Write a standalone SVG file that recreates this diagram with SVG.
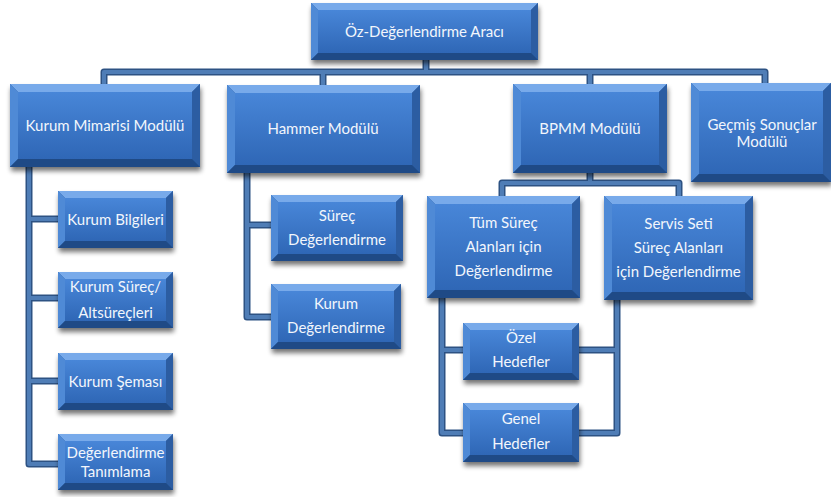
<svg xmlns="http://www.w3.org/2000/svg" width="831" height="497" viewBox="0 0 831 497">
<defs>
<linearGradient id="face" x1="0" y1="0" x2="0" y2="1">
<stop offset="0" stop-color="#4886d8"/>
<stop offset="1" stop-color="#2f67b6"/>
</linearGradient>
<filter id="sh" x="-10%" y="-10%" width="125%" height="135%">
<feGaussianBlur in="SourceAlpha" stdDeviation="2.5"/>
<feOffset dx="1" dy="4" result="b"/>
<feComponentTransfer><feFuncA type="linear" slope="0.55"/></feComponentTransfer>
<feMerge><feMergeNode/><feMergeNode in="SourceGraphic"/></feMerge>
</filter>
</defs>
<style>
.base{fill:#2b5c9f;filter:url(#sh)}
.bt{fill:#78aaea}
.bl{fill:#4f8ad6}
.br{fill:#2c5da2}
.bb{fill:#1f4a86}
.face{fill:url(#face)}
text{font-family:Lato,"Liberation Sans",sans-serif;font-size:15px;fill:#f2f6fc;text-anchor:middle}
.co{fill:none;stroke:#2d5283;stroke-width:7;stroke-linejoin:round;stroke-linecap:butt}
.ci{fill:none;stroke:#4f7db6;stroke-width:4;stroke-linejoin:round;stroke-linecap:butt}
</style>
<g id="connectors">
<g class="co">
<path d="M426,60 V72"/><path d="M104,84 V72 H765 V83"/><path d="M323,72 V85"/><path d="M590,72 V84"/>
<path d="M29,167 V464 H58"/><path d="M29,219 H58"/><path d="M29,298 H58"/><path d="M29,381 H58"/>
<path d="M247,173 V317 H271"/><path d="M247,225 H271"/>
<path d="M590,173 V183"/><path d="M502,196 V183 H679 V196"/>
<path d="M442,298 V433 H463"/><path d="M442,350 H463"/>
<path d="M617,300 V433 H579"/><path d="M617,350 H579"/>
</g>
<g class="ci">
<path d="M426,60 V72"/><path d="M104,84 V72 H765 V83"/><path d="M323,72 V85"/><path d="M590,72 V84"/>
<path d="M29,167 V464 H58"/><path d="M29,219 H58"/><path d="M29,298 H58"/><path d="M29,381 H58"/>
<path d="M247,173 V317 H271"/><path d="M247,225 H271"/>
<path d="M590,173 V183"/><path d="M502,196 V183 H679 V196"/>
<path d="M442,298 V433 H463"/><path d="M442,350 H463"/>
<path d="M617,300 V433 H579"/><path d="M617,350 H579"/>
</g>
</g>

<g id="n-top">
<rect class="base" x="311" y="3" width="227" height="57"/>
<polygon class="bt" points="311,3 538,3 531,10 318,10"/>
<polygon class="bl" points="311,3 318,10 318,53 311,60"/>
<polygon class="br" points="538,3 538,60 531,53 531,10"/>
<polygon class="bb" points="311,60 318,53 531,53 538,60"/>
<rect class="face" x="318" y="10" width="213" height="43"/>
<text x="424.5" y="37">Öz-Değerlendirme Aracı</text>
</g>

<g id="n-kmm">
<rect class="base" x="10" y="84" width="190" height="83"/>
<polygon class="bt" points="10,84 200,84 192,92 18,92"/>
<polygon class="bl" points="10,84 18,92 18,159 10,167"/>
<polygon class="br" points="200,84 200,167 192,159 192,92"/>
<polygon class="bb" points="10,167 18,159 192,159 200,167"/>
<rect class="face" x="18" y="92" width="174" height="67"/>
<text x="105" y="131">Kurum Mimarisi Modülü</text>
</g>

<g id="n-ham">
<rect class="base" x="227" y="85" width="193" height="88"/>
<polygon class="bt" points="227,85 420,85 412,93 235,93"/>
<polygon class="bl" points="227,85 235,93 235,165 227,173"/>
<polygon class="br" points="420,85 420,173 412,165 412,93"/>
<polygon class="bb" points="227,173 235,165 412,165 420,173"/>
<rect class="face" x="235" y="93" width="177" height="72"/>
<text x="323" y="134">Hammer Modülü</text>
</g>

<g id="n-bpmm">
<rect class="base" x="513" y="84" width="154" height="89"/>
<polygon class="bt" points="513,84 667,84 659,92 521,92"/>
<polygon class="bl" points="513,84 521,92 521,165 513,173"/>
<polygon class="br" points="667,84 667,173 659,165 659,92"/>
<polygon class="bb" points="513,173 521,165 659,165 667,173"/>
<rect class="face" x="521" y="92" width="138" height="73"/>
<text x="590" y="134">BPMM Modülü</text>
</g>

<g id="n-gec">
<rect class="base" x="691" y="83" width="140" height="99"/>
<polygon class="bt" points="691,83 831,83 823,91 699,91"/>
<polygon class="bl" points="691,83 699,91 699,174 691,182"/>
<polygon class="br" points="831,83 831,182 823,174 823,91"/>
<polygon class="bb" points="691,182 699,174 823,174 831,182"/>
<rect class="face" x="699" y="91" width="124" height="83"/>
<text x="762" y="130">Geçmiş Sonuçlar</text>
<text x="762" y="147">Modülü</text>
</g>

<g id="n-kb">
<rect class="base" x="58" y="191" width="115" height="57"/>
<polygon class="bt" points="58,191 173,191 166,198 65,198"/>
<polygon class="bl" points="58,191 65,198 65,241 58,248"/>
<polygon class="br" points="173,191 173,248 166,241 166,198"/>
<polygon class="bb" points="58,248 65,241 166,241 173,248"/>
<rect class="face" x="65" y="198" width="101" height="43"/>
<text x="115.5" y="225">Kurum Bilgileri</text>
</g>

<g id="n-ks">
<rect class="base" x="58" y="272" width="115" height="56"/>
<polygon class="bt" points="58,272 173,272 166,279 65,279"/>
<polygon class="bl" points="58,272 65,279 65,321 58,328"/>
<polygon class="br" points="173,272 173,328 166,321 166,279"/>
<polygon class="bb" points="58,328 65,321 166,321 173,328"/>
<rect class="face" x="65" y="279" width="101" height="42"/>
<text x="115.5" y="292">Kurum Süreç/</text>
<text x="115.5" y="318">Altsüreçleri</text>
</g>

<g id="n-ksm">
<rect class="base" x="58" y="353" width="115" height="57"/>
<polygon class="bt" points="58,353 173,353 166,360 65,360"/>
<polygon class="bl" points="58,353 65,360 65,403 58,410"/>
<polygon class="br" points="173,353 173,410 166,403 166,360"/>
<polygon class="bb" points="58,410 65,403 166,403 173,410"/>
<rect class="face" x="65" y="360" width="101" height="43"/>
<text x="115.5" y="387">Kurum Şeması</text>
</g>

<g id="n-dt">
<rect class="base" x="58" y="434" width="115" height="56"/>
<polygon class="bt" points="58,434 173,434 166,441 65,441"/>
<polygon class="bl" points="58,434 65,441 65,483 58,490"/>
<polygon class="br" points="173,434 173,490 166,483 166,441"/>
<polygon class="bb" points="58,490 65,483 166,483 173,490"/>
<rect class="face" x="65" y="441" width="101" height="42"/>
<text x="115.5" y="458">Değerlendirme</text>
<text x="115.5" y="477">Tanımlama</text>
</g>

<g id="n-sd">
<rect class="base" x="271" y="195" width="132" height="66"/>
<polygon class="bt" points="271,195 403,195 396,202 278,202"/>
<polygon class="bl" points="271,195 278,202 278,254 271,261"/>
<polygon class="br" points="403,195 403,261 396,254 396,202"/>
<polygon class="bb" points="271,261 278,254 396,254 403,261"/>
<rect class="face" x="278" y="202" width="118" height="52"/>
<text x="337" y="221">Süreç</text>
<text x="337" y="245">Değerlendirme</text>
</g>

<g id="n-kd">
<rect class="base" x="271" y="284" width="130" height="65"/>
<polygon class="bt" points="271,284 401,284 394,291 278,291"/>
<polygon class="bl" points="271,284 278,291 278,342 271,349"/>
<polygon class="br" points="401,284 401,349 394,342 394,291"/>
<polygon class="bb" points="271,349 278,342 394,342 401,349"/>
<rect class="face" x="278" y="291" width="116" height="51"/>
<text x="336" y="309">Kurum</text>
<text x="336" y="333">Değerlendirme</text>
</g>

<g id="n-tum">
<rect class="base" x="427" y="196" width="153" height="102"/>
<polygon class="bt" points="427,196 580,196 572,204 435,204"/>
<polygon class="bl" points="427,196 435,204 435,290 427,298"/>
<polygon class="br" points="580,196 580,298 572,290 572,204"/>
<polygon class="bb" points="427,298 435,290 572,290 580,298"/>
<rect class="face" x="435" y="204" width="137" height="86"/>
<text x="503.5" y="228">Tüm Süreç</text>
<text x="503.5" y="252">Alanları için</text>
<text x="503.5" y="276">Değerlendirme</text>
</g>

<g id="n-ser">
<rect class="base" x="604" y="196" width="149" height="104"/>
<polygon class="bt" points="604,196 753,196 745,204 612,204"/>
<polygon class="bl" points="604,196 612,204 612,292 604,300"/>
<polygon class="br" points="753,196 753,300 745,292 745,204"/>
<polygon class="bb" points="604,300 612,292 745,292 753,300"/>
<rect class="face" x="612" y="204" width="133" height="88"/>
<text x="678.5" y="229">Servis Seti</text>
<text x="678.5" y="253">Süreç Alanları</text>
<text x="678.5" y="277">için Değerlendirme</text>
</g>

<g id="n-ozel">
<rect class="base" x="463" y="323" width="116" height="57"/>
<polygon class="bt" points="463,323 579,323 572,330 470,330"/>
<polygon class="bl" points="463,323 470,330 470,373 463,380"/>
<polygon class="br" points="579,323 579,380 572,373 572,330"/>
<polygon class="bb" points="463,380 470,373 572,373 579,380"/>
<rect class="face" x="470" y="330" width="102" height="43"/>
<text x="521" y="343">Özel</text>
<text x="521" y="367">Hedefler</text>
</g>

<g id="n-genel">
<rect class="base" x="463" y="403" width="116" height="59"/>
<polygon class="bt" points="463,403 579,403 572,410 470,410"/>
<polygon class="bl" points="463,403 470,410 470,455 463,462"/>
<polygon class="br" points="579,403 579,462 572,455 572,410"/>
<polygon class="bb" points="463,462 470,455 572,455 579,462"/>
<rect class="face" x="470" y="410" width="102" height="45"/>
<text x="521" y="424">Genel</text>
<text x="521" y="449">Hedefler</text>
</g>
</svg>
